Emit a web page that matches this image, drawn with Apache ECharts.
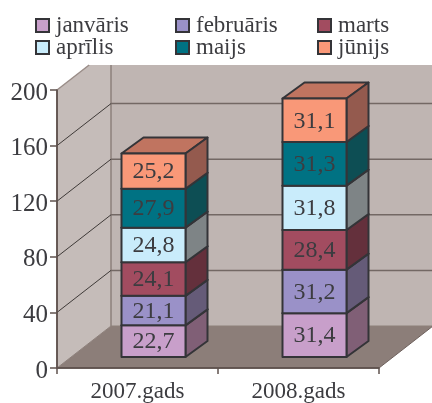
<!DOCTYPE html>
<html><head><meta charset="utf-8">
<style>html,body{margin:0;padding:0;background:#fff}#c{width:432px;height:403px}</style>
<script src="https://cdn.jsdelivr.net/npm/echarts@6/dist/echarts.min.js"></script>
</head><body><div id="c"></div>
<script>
const categories = ['2007.gads', '2008.gads'];
const months = ['janvāris', 'februāris', 'marts', 'aprīlis', 'maijs', 'jūnijs'];
const janvaris = [22.7, 31.4];
const februaris = [21.1, 31.2];
const marts = [24.1, 28.4];
const aprilis = [24.8, 31.8];
const maijs = [27.9, 31.3];
const junijs = [25.2, 31.1];
const yTicks = [0, 40, 80, 120, 160, 200];
const seriesValues = [janvaris, februaris, marts, aprilis, maijs, junijs];

const faces = ['#c89fca', '#9a91c8', '#a24c60', '#c9ecfb', '#007283', '#f99878'];
const sides = ['#805f76', '#655b78', '#64303c', '#7e8486', '#0d4e54', '#945a4e'];
const tops = ['#a07fa0', '#7b74a0', '#82404d', '#a1bcc9', '#005b69', '#c07460'];
const legendPos = [[35,14],[175,14],[317,14],[35,36],[175,36],[317,36]];
const FONT = '"Liberation Serif", serif';
const INK = '#3c3c40', EDGE = '#343438', AXIS = '#5f524e';
const WALL_DX = 54, WALL_DY = 42, CLIP_Y = 65, RIGHT_X = 432;
const BAR_W = 64, BAR_DX = 16, BAR_DY = 11, SIDE_DX = 22, SIDE_DY = 16, BAR_STRETCH = 1.004;

const chart = echarts.init(document.getElementById('c'), null, {renderer: 'canvas'});

const poly = (points, fill) => ({type: 'polygon', shape: {points}, style: {fill, stroke: null}});
const line = (x1, y1, x2, y2, stroke, lineWidth) => ({type: 'line', shape: {x1, y1, x2, y2}, style: {stroke, lineWidth}});

function renderWalls(params, api) {
  const o = api.coord([0, 0]);
  const t = api.coord([0, 200]);
  const L = params.coordSys.x, R = L + params.coordSys.width, B = o[1], T = t[1];
  const backX = L + WALL_DX, backY = B - WALL_DY;
  const clipX = L + (T - CLIP_Y) * WALL_DX / WALL_DY;
  return {type: 'group', children: [
    poly([[backX, CLIP_Y], [RIGHT_X, CLIP_Y], [RIGHT_X, backY], [backX, backY]], '#bfb5b2'),
    poly([[L, B], [backX, backY], [backX, CLIP_Y], [clipX, CLIP_Y], [L, T]], '#c5bcb9'),
    poly([[L, B], [R, B], [R + WALL_DX, backY], [backX, backY]], '#8c7e79'),
    line(backX, CLIP_Y, backX, backY, '#8d807b', 1.5),
    line(L, T, clipX, CLIP_Y, '#9a8d88', 1.5),
    line(L, B, backX, backY, '#8d807b', 1),
    line(backX, backY, RIGHT_X, backY, '#8d807b', 1),
    line(R, B, R + WALL_DX, backY, '#6e615d', 1),
    line(L, T, L, B + 0.5, AXIS, 1.5),
    line(L, B, R, B, AXIS, 1.5)
  ]};
}

function renderGrid(params, api) {
  const v = api.value(0);
  if (v === 0 || v === 200) return {type: 'group', children: []};
  const p = api.coord([0, v]);
  const L = params.coordSys.x;
  return {type: 'group', children: [
    line(L, p[1], L + WALL_DX, p[1] - WALL_DY, '#3f3a38', 1),
    line(L + WALL_DX, p[1] - WALL_DY, RIGHT_X, p[1] - WALL_DY, '#736864', 1.5)
  ]};
}

function renderSeg(params, api) {
  const i = params.seriesIndex - 2;
  const zero = api.coord([api.value(0), 0]);
  const base = api.coord([api.value(0), api.value(2)]);
  const top = api.coord([api.value(0), api.value(2) + api.value(1)]);
  const x0 = base[0] + BAR_DX - BAR_W / 2, x1 = x0 + BAR_W;
  const yb = zero[1] - (zero[1] - base[1]) * BAR_STRETCH - BAR_DY;
  const yt = zero[1] - (zero[1] - top[1]) * BAR_STRETCH - BAR_DY;
  const stroke = {stroke: EDGE, lineWidth: 2, lineJoin: 'round'};
  return {type: 'group', children: [
    {type: 'polygon', shape: {points: [[x0, yt], [x1, yt], [x1 + SIDE_DX, yt - SIDE_DY], [x0 + SIDE_DX, yt - SIDE_DY]]}, style: Object.assign({fill: tops[i]}, stroke)},
    {type: 'polygon', shape: {points: [[x1, yb], [x1 + SIDE_DX, yb - SIDE_DY], [x1 + SIDE_DX, yt - SIDE_DY], [x1, yt]]}, style: Object.assign({fill: sides[i]}, stroke)},
    {type: 'rect', shape: {x: x0, y: yt, width: BAR_W, height: yb - yt}, style: Object.assign({fill: faces[i]}, stroke)},
    {type: 'text', style: {text: api.value(1).toFixed(1).replace('.', ','), x: (x0 + x1) / 2, y: (yb + yt) / 2 + 1,
      align: 'center', verticalAlign: 'middle', font: '24px ' + FONT, fill: INK}}
  ]};
}

const running = categories.map(() => 0);
const barSeries = months.map((name, i) => {
  const data = seriesValues[i].map((v, c) => {
    const row = [c, v, running[c]];
    running[c] += v;
    return row;
  });
  return {type: 'custom', name, z: 5, clip: false, renderItem: renderSeg, data,
    encode: {x: 0, y: 1}, itemStyle: {color: faces[i], borderColor: EDGE, borderWidth: 2}};
});

chart.setOption({
  animation: false,
  backgroundColor: '#fff',
  legend: months.map((name, i) => ({
    data: [{name, icon: 'rect'}], left: legendPos[i][0], top: legendPos[i][1], padding: 0,
    itemWidth: 13, itemHeight: 13, selectedMode: false,
    textStyle: {fontFamily: FONT, fontSize: 23, color: INK, padding: [0, 0, 0, 2]}
  })),
  grid: {left: 57, right: 53, top: 90, bottom: 35},
  xAxis: {type: 'category', data: categories, z: 6,
    axisLine: {show: true, lineStyle: {color: AXIS, width: 1.5}},
    axisTick: {show: true, inside: false, length: 6, lineStyle: {color: AXIS, width: 1.5}},
    axisLabel: {fontFamily: FONT, fontSize: 23, color: INK, margin: 12}},
  yAxis: {type: 'value', min: 0, max: 200, interval: 40, z: 6,
    splitLine: {show: false},
    axisLine: {show: true, lineStyle: {color: AXIS, width: 1.5}},
    axisTick: {show: true, inside: false, length: 7, lineStyle: {color: AXIS, width: 1.5}},
    axisLabel: {color: INK, margin: 9, formatter: '{t|{value}}',
      rich: {t: {fontFamily: FONT, fontSize: 25, color: INK, padding: [6, 0, 0, 0]}}}},
  series: [
    {type: 'custom', z: 1, silent: true, clip: false, renderItem: renderWalls, data: [[0]], encode: {y: 0}},
    {type: 'custom', z: 2, silent: true, clip: false, renderItem: renderGrid, data: yTicks.map(v => [v]), encode: {y: 0}}
  ].concat(barSeries)
});
</script></body></html>
